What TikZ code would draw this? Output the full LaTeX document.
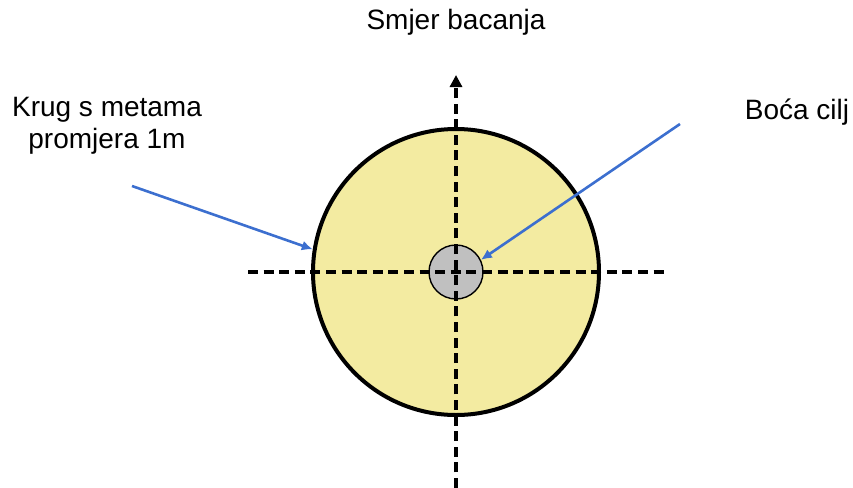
\documentclass[tikz,border=0pt]{standalone}
\usepackage{fontspec}
\setmainfont{Liberation Sans}
\usepackage{tikz}
\usetikzlibrary{positioning,arrows.meta,calc}
\definecolor{ringfill}{HTML}{F3EBA1}
\definecolor{ballfill}{HTML}{C0C0C0}
\definecolor{pointer}{HTML}{3C6FCF}

\begin{document}
\begin{tikzpicture}[x=0.5pt,y=-0.5pt,font=\fontsize{14}{16}\selectfont]
\useasboundingbox (0,0) rectangle (853,488);
% target ring and jack
\node[circle,draw,line width=2pt,fill=ringfill,minimum size=143pt,inner sep=0pt] (ring) at (456,272) {};
\node[circle,draw,line width=0.7pt,fill=ballfill,minimum size=27pt,inner sep=0pt] (jack) at (456,272) {};
% axes
\coordinate (axL) at (248,272);
\coordinate (axR) at (666,272);
\coordinate (axT) at (456,75);
\coordinate (axB) at (456,488);
\draw[line width=1.6pt,dash pattern=on 5pt off 2.8pt] (axL) -- (axR);
\draw[line width=1.6pt,dash pattern=on 5pt off 2.8pt,-{Triangle[length=6pt,width=6pt]}] (axB) -- (axT);
% labels
\node (dir) at (456,22) {Smjer bacanja};
\node[align=center] (ringlbl) at (107,126) {Krug s metama\\promjera 1m};
\node (jacklbl) at (797,112) {Boća cilj};
% pointers
\coordinate (p1) at (132,186);
\coordinate (p2) at (680,124);
\draw[pointer,line width=1.3pt,-{Latex[length=5.5pt,width=5pt]}] (p1) -- (ring.171);
\draw[pointer,line width=1.3pt,-{Latex[length=5.5pt,width=5pt]}] (p2) -- (jack.26);
\end{tikzpicture}
\end{document}
